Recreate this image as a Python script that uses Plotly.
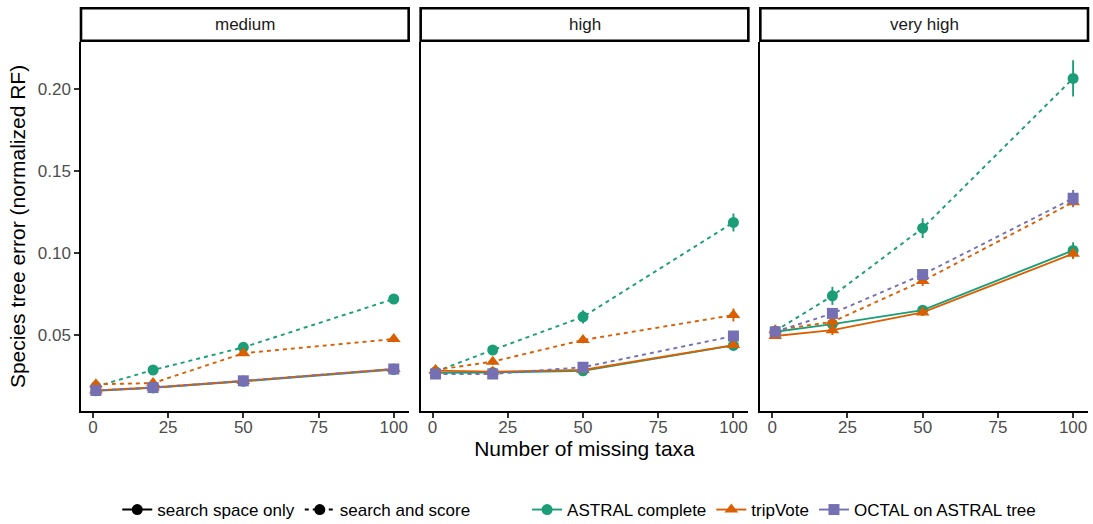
import plotly.graph_objects as go
from plotly.subplots import make_subplots

# Number of missing taxa (x positions shared by every panel)
missing_taxa = [1, 20, 50, 100]
panels = ["medium", "high", "very high"]

# Species tree error (normalized RF), per panel: medium, high, very high
astral_space = [[0.0160, 0.0178, 0.0218, 0.0290],
                [0.0270, 0.0272, 0.0282, 0.0437],
                [0.0520, 0.0567, 0.0652, 0.1016]]
astral_score = [[0.0186, 0.0287, 0.0425, 0.0720],
                [0.0277, 0.0409, 0.0611, 0.1187],
                [0.0525, 0.0739, 0.1152, 0.2065]]
trip_space = [[0.0162, 0.0180, 0.0220, 0.0293],
              [0.0283, 0.0277, 0.0287, 0.0439],
              [0.0494, 0.0530, 0.0638, 0.0996]]
trip_score = [[0.0200, 0.0207, 0.0389, 0.0476],
              [0.0287, 0.0338, 0.0470, 0.0622],
              [0.0530, 0.0581, 0.0830, 0.1310]]
octal_score = [[0.0162, 0.0180, 0.0221, 0.0293],
               [0.0263, 0.0263, 0.0304, 0.0494],
               [0.0520, 0.0632, 0.0869, 0.1334]]

# Half-width of the error bars
astral_space_err = [[0.001, 0.001, 0.001, 0.0015],
                    [0.001, 0.001, 0.001, 0.0015],
                    [0.0015, 0.002, 0.002, 0.005]]
astral_score_err = [[0.001, 0.001, 0.0015, 0.0015],
                    [0.001, 0.0015, 0.004, 0.0055],
                    [0.0015, 0.0055, 0.006, 0.011]]
trip_space_err = [[0.001, 0.001, 0.001, 0.0015],
                  [0.001, 0.001, 0.001, 0.0015],
                  [0.0015, 0.003, 0.002, 0.003]]
trip_score_err = [[0.001, 0.001, 0.0015, 0.002],
                  [0.001, 0.002, 0.002, 0.004],
                  [0.0015, 0.002, 0.003, 0.003]]
octal_score_err = [[0.001, 0.001, 0.001, 0.0015],
                   [0.001, 0.001, 0.0015, 0.002],
                   [0.0015, 0.002, 0.002, 0.005]]

GREEN, ORANGE, PURPLE = "#1B9E77", "#D95F02", "#7570B3"
FONT = "Liberation Sans, Arial, Helvetica, sans-serif"
DASH = "4px,4px"
MARKER_SIZE = {"circle": 11, "triangle-up": 12, "square": 11}

series = [
    (astral_space, astral_space_err, GREEN, "circle", "solid"),
    (astral_score, astral_score_err, GREEN, "circle", DASH),
    (trip_space, trip_space_err, ORANGE, "triangle-up", "solid"),
    (trip_score, trip_score_err, ORANGE, "triangle-up", DASH),
    (octal_score, octal_score_err, PURPLE, "square", DASH),
]

fig = make_subplots(rows=1, cols=3, shared_yaxes=True,
                    horizontal_spacing=12 / 1007)

for p in range(3):
    for vals, errs, color, sym, dash in series:
        fig.add_trace(go.Scatter(
            x=missing_taxa, y=vals[p], mode="lines+markers",
            line=dict(color=color, width=1.9, dash=dash),
            marker=dict(color=color, symbol=sym, size=MARKER_SIZE[sym]),
            error_y=dict(type="data", array=errs[p], visible=True,
                         color=color, thickness=1.9, width=0),
            showlegend=False, hoverinfo="x+y"),
            row=1, col=p + 1)

# Legend: line type
for name, dash in [("search space only", "solid"), ("search and score", DASH)]:
    fig.add_trace(go.Scatter(
        x=[None], y=[None], mode="lines+markers", name=name,
        line=dict(color="black", width=1.9, dash=dash),
        marker=dict(color="black", symbol="circle", size=11),
        legend="legend"))

# Legend: method colour
for name, color, sym in [("ASTRAL complete", GREEN, "circle"),
                         ("tripVote", ORANGE, "triangle-up"),
                         ("OCTAL on ASTRAL tree", PURPLE, "square")]:
    fig.add_trace(go.Scatter(
        x=[None], y=[None], mode="lines+markers", name=name,
        line=dict(color=color, width=1.9),
        marker=dict(color=color, symbol=sym, size=MARKER_SIZE[sym]),
        legend="legend2"))

x_common = dict(range=[-3.95, 104.95], tickvals=[0, 25, 50, 75, 100],
                showline=True, linecolor="black", linewidth=1.5,
                ticks="outside", ticklen=5, tickwidth=1.5, tickcolor="#333333",
                ticklabelstandoff=-5,
                tickfont=dict(size=17, color="#4d4d4d", family=FONT),
                showgrid=False, zeroline=False)
for i in range(1, 4):
    fig.update_xaxes(**x_common, row=1, col=i)
fig.update_xaxes(title=dict(text="Number of missing taxa",
                            font=dict(size=21, color="black", family=FONT),
                            standoff=2), row=1, col=2)

fig.update_yaxes(range=[0.0037, 0.2287], showline=True, linecolor="black",
                 linewidth=1.5, showgrid=False, zeroline=False)
fig.update_yaxes(tickvals=[0.05, 0.10, 0.15, 0.20], tickformat=".2f",
                 ticks="outside", ticklen=5, tickwidth=1.5, tickcolor="#333333",
                 tickfont=dict(size=17, color="#4d4d4d", family=FONT),
                 title=dict(text="Species tree error (normalized RF)",
                            font=dict(size=21, color="black", family=FONT),
                            standoff=6),
                 row=1, col=1)
fig.update_yaxes(ticks="", showticklabels=False, row=1, col=2)
fig.update_yaxes(ticks="", showticklabels=False, row=1, col=3)

# Facet strips
for i, label in enumerate(panels):
    xref = "x domain" if i == 0 else f"x{i + 1} domain"
    fig.add_shape(type="rect", xref=xref, yref="paper",
                  x0=0, x1=1, y0=1.0035, y1=1.0915,
                  line=dict(color="black", width=2.6), fillcolor="white")
    fig.add_annotation(xref=xref, yref="paper", x=0.5, y=1.047,
                       xanchor="center", yanchor="middle",
                       text=label, showarrow=False,
                       font=dict(size=17, color="#1a1a1a", family=FONT))

legend_common = dict(orientation="h", xanchor="left", yref="container",
                     y=14 / 524, yanchor="middle",
                     font=dict(size=17, color="black"),
                     bgcolor="rgba(0,0,0,0)")

fig.update_layout(
    width=1093, height=524,
    margin=dict(l=81, r=5, t=42, b=113, autoexpand=False),
    paper_bgcolor="white", plot_bgcolor="white",
    font=dict(family=FONT, color="black"),
    legend=dict(**legend_common, x=0.036),
    legend2=dict(**legend_common, x=0.443),
)

fig.write_html("out.html")
